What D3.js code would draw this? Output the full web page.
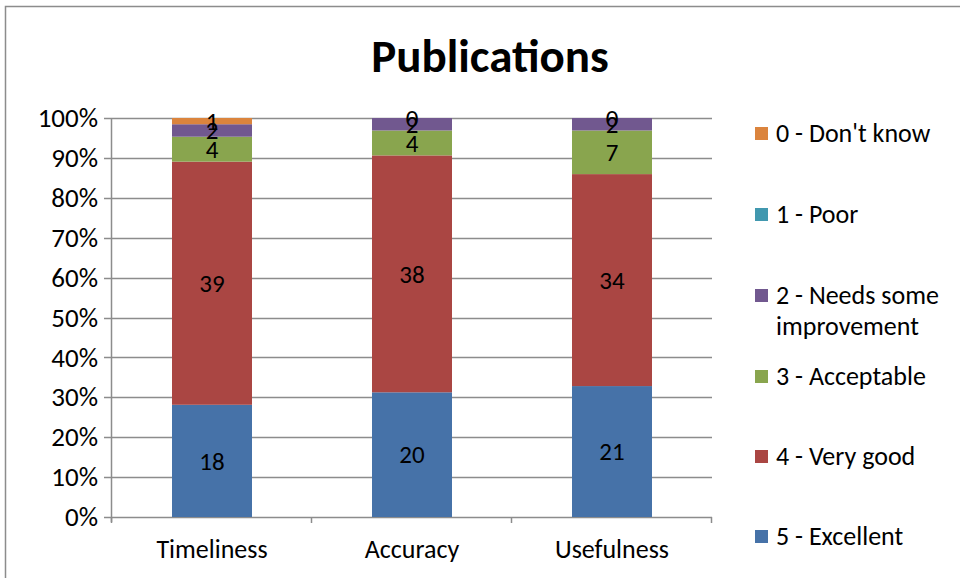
<!DOCTYPE html>
<html>
<head>
<meta charset="utf-8">
<script src="https://cdn.jsdelivr.net/npm/d3@7"></script>
<style>
  html, body { margin: 0; padding: 0; background: #fff; }
  svg { display: block; }
  text { font-family: Carlito, Calibri, Lato, "Open Sans", sans-serif; fill: #000; }
</style>
</head>
<body>
<svg id="chart" width="960" height="578"></svg>
<script>
// Survey response counts per rating, by category
const categories = ["Timeliness", "Accuracy", "Usefulness"];
const seriesNames = ["5 - Excellent", "4 - Very good", "3 - Acceptable", "2 - Needs some improvement", "1 - Poor", "0 - Don't know"];
const excellent = [18, 20, 21];
const veryGood = [39, 38, 34];
const acceptable = [4, 4, 7];
const needsImprovement = [2, 2, 2];
const poor = [null, null, null];
const dontKnow = [1, 0, 0];
const seriesColors = ["#4672A8", "#AA4643", "#89A54E", "#71588F", "#4198AF", "#DB843D"];
const yTicks = [0, 0.1, 0.2, 0.3, 0.4, 0.5, 0.6, 0.7, 0.8, 0.9, 1];

const seriesValues = [excellent, veryGood, acceptable, needsImprovement, poor, dontKnow];

const svg = d3.select("#chart");

// outer chart frame (top and left edges visible)
svg.append("path")
  .attr("d", "M5.5,578 V6.5 H960")
  .attr("fill", "none")
  .attr("stroke", "#8c8c8c")
  .attr("stroke-width", 1.5);

svg.append("text")
  .attr("x", 490).attr("y", 72)
  .attr("text-anchor", "middle")
  .attr("font-size", 47).attr("font-weight", "bold")
  .text("Publications");

const plot = { left: 112, right: 712, top: 118, bottom: 517 };

const x = d3.scaleBand().domain(categories).range([plot.left, plot.right]).paddingInner(0.6).paddingOuter(0.3);
const xOuter = d3.scaleBand().domain(categories).range([plot.left, plot.right]);
const y = d3.scaleLinear().domain([0, 1]).range([plot.bottom, plot.top]);

// gridlines
svg.append("g")
  .selectAll("line")
  .data(yTicks)
  .join("line")
  .attr("x1", plot.left - 8).attr("x2", plot.right)
  .attr("y1", d => Math.round(y(d)) + 0.5).attr("y2", d => Math.round(y(d)) + 0.5)
  .attr("stroke", "#8c8c8c").attr("stroke-width", 1.5);

// stacked percentages
const rows = categories.map((c, i) => {
  const total = d3.sum(seriesValues, s => s[i] || 0);
  const row = { category: c, total };
  seriesNames.forEach((n, k) => { row[n] = (seriesValues[k][i] || 0) / total; });
  return row;
});
const stacked = d3.stack().keys(seriesNames)(rows);

const barG = svg.append("g");
stacked.forEach((layer, k) => {
  barG.append("g")
    .attr("fill", seriesColors[k])
    .selectAll("rect")
    .data(layer)
    .join("rect")
    .attr("x", d => x(d.data.category))
    .attr("width", x.bandwidth())
    .attr("y", d => y(d[1]))
    .attr("height", d => y(d[0]) - y(d[1]));
});

// value labels, centred in each segment
const labelG = svg.append("g");
stacked.forEach((layer, k) => {
  layer.forEach((d, i) => {
    const v = seriesValues[k][i];
    if (v === null || v === undefined) return;
    labelG.append("text")
      .attr("x", x(d.data.category) + x.bandwidth() / 2)
      .attr("y", y((d[0] + d[1]) / 2))
      .attr("dy", "0.35em")
      .attr("text-anchor", "middle")
      .attr("font-size", 25)
      .text(v);
  });
});

// y axis
const yAxis = d3.axisLeft(y).tickValues(yTicks).tickFormat(d3.format(".0%")).tickSize(0).tickPadding(14);
const yAxisG = svg.append("g").attr("transform", `translate(${plot.left},0)`).call(yAxis);
yAxisG.select(".domain").remove();
yAxisG.attr("font-family", null).attr("font-size", null);
yAxisG.selectAll("text").attr("font-size", 27);
svg.append("line")
  .attr("x1", plot.left - 0.5).attr("x2", plot.left - 0.5)
  .attr("y1", plot.top).attr("y2", plot.bottom + 5)
  .attr("stroke", "#8c8c8c").attr("stroke-width", 1.5);

// x axis
const xAxisG = svg.append("g").attr("transform", `translate(0,${plot.bottom})`);
xAxisG.selectAll("line.tick")
  .data(categories.concat(["__end"]))
  .join("line")
  .attr("class", "tick")
  .attr("x1", d => d === "__end" ? plot.right - 0.5 : xOuter(d) - 0.5)
  .attr("x2", d => d === "__end" ? plot.right - 0.5 : xOuter(d) - 0.5)
  .attr("y1", 0).attr("y2", 6)
  .attr("stroke", "#8c8c8c").attr("stroke-width", 1.5);
xAxisG.selectAll("text")
  .data(categories)
  .join("text")
  .attr("x", d => xOuter(d) + xOuter.bandwidth() / 2)
  .attr("y", 41)
  .attr("text-anchor", "middle")
  .attr("font-size", 26)
  .text(d => d);

// legend
const legendItems = [
  { k: 5, lines: ["0 - Don't know"], y: 133 },
  { k: 4, lines: ["1 - Poor"], y: 214 },
  { k: 3, lines: ["2 - Needs some", "improvement"], y: 295 },
  { k: 2, lines: ["3 - Acceptable"], y: 376 },
  { k: 1, lines: ["4 - Very good"], y: 456 },
  { k: 0, lines: ["5 - Excellent"], y: 536 }
];
const legend = svg.append("g");
legendItems.forEach(item => {
  legend.append("rect")
    .attr("x", 755).attr("y", item.y - 6)
    .attr("width", 13).attr("height", 13)
    .attr("fill", seriesColors[item.k]);
  item.lines.forEach((line, j) => {
    legend.append("text")
      .attr("x", 776)
      .attr("y", item.y + j * 31)
      .attr("dy", "0.35em")
      .attr("font-size", 26)
      .text(line);
  });
});
</script>
</body>
</html>
